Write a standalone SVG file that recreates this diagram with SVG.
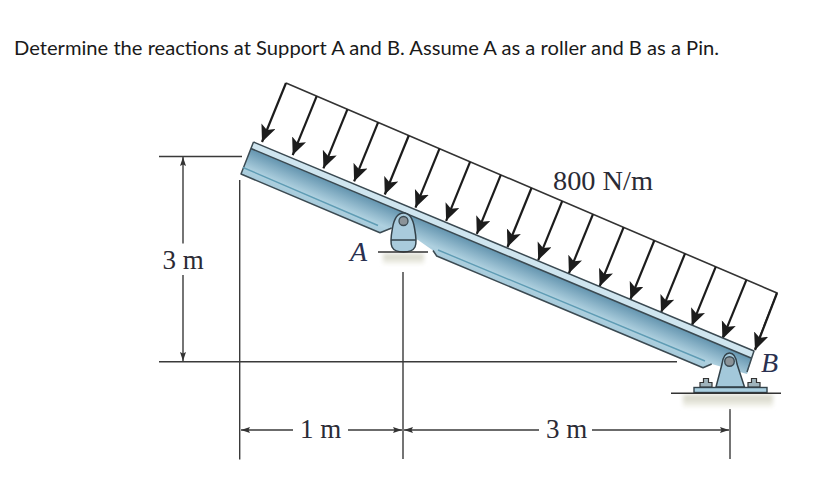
<svg xmlns="http://www.w3.org/2000/svg" width="828" height="498" viewBox="0 0 828 498">
<style>
.title{font-family:"Lato","Open Sans",sans-serif;font-size:18.5px;fill:#1a1a1a}
.lbl{font-family:"Liberation Serif",serif;font-size:27px;fill:#2b2b35}
.it{font-family:"Liberation Serif",serif;font-size:28px;font-style:italic;fill:#2a3050}
.dim{stroke:#3a3a3a;stroke-width:1.4;fill:none}
.load{stroke:#333;stroke-width:1.6;fill:none}
.arw{stroke:#1c1c1c;stroke-width:2.2;fill:none;marker-end:url(#head)}
.edge{stroke:#3b4a52;stroke-width:1.5;stroke-linejoin:round}
</style>
<defs>
<marker id="head" markerUnits="userSpaceOnUse" markerWidth="19" markerHeight="16" refX="17" refY="7.500" orient="auto">
<path d="M0 0L17 7.500L0 15L4 7.500Z" fill="#1c1c1c"/>
</marker>
<marker id="dimEnd" markerUnits="userSpaceOnUse" markerWidth="10" markerHeight="8" refX="9" refY="3" orient="auto">
<path d="M0 0L9 3L0 6L1.500 3Z" fill="#333"/>
</marker>
<linearGradient id="web" gradientUnits="userSpaceOnUse" x1="252" y1="150" x2="240.500" y2="177.500">
<stop offset="0" stop-color="#6797b1"/><stop offset=".65" stop-color="#aed0df"/><stop offset="1" stop-color="#a3c8d9"/>
</linearGradient>
<linearGradient id="shadow" x1="0" y1="0" x2="0" y2="1">
<stop offset="0" stop-color="#cfcfbf"/><stop offset="1" stop-color="#f6f6f0"/>
</linearGradient>
<filter id="soft" x="-10%" y="-30%" width="120%" height="160%"><feGaussianBlur stdDeviation="2"/></filter>
</defs>
<text class="title" x="14" y="54.500" textLength="705" lengthAdjust="spacingAndGlyphs">Determine the reactions at Support A and B. Assume A as a roller and B as a Pin.</text>
<g id="connectors">
<path class="dim" d="M159 156.500H242M159 361.700H677M239.700 180V459.500M403 272V459M730 409V459"/>
<path class="dim" d="M183 243.500V157" marker-end="url(#dimEnd)"/>
<path class="dim" d="M183 275V361" marker-end="url(#dimEnd)"/>
<path class="dim" d="M293 430H241" marker-end="url(#dimEnd)"/>
<path class="dim" d="M348 430H402" marker-end="url(#dimEnd)"/>
<path class="dim" d="M539 430H404" marker-end="url(#dimEnd)"/>
<path class="dim" d="M592 430H729" marker-end="url(#dimEnd)"/>
</g>
<g id="load">
<path class="load" d="M286 83L777 293L755 349"/>
<path class="arw" d="M286 83L262 142"/>
<path class="arw" d="M316.700 96.100L292.700 155.100"/>
<path class="arw" d="M347.400 109.300L323.400 168.300"/>
<path class="arw" d="M378.100 122.400L354.100 181.400"/>
<path class="arw" d="M408.800 135.500L384.800 194.500"/>
<path class="arw" d="M439.500 148.600L415.500 207.600"/>
<path class="arw" d="M470.100 161.800L446.100 220.800"/>
<path class="arw" d="M500.800 174.900L476.800 233.900"/>
<path class="arw" d="M531.500 188L507.500 247"/>
<path class="arw" d="M562.200 201.100L538.200 260.100"/>
<path class="arw" d="M592.900 214.300L568.900 273.300"/>
<path class="arw" d="M623.600 227.400L599.600 286.400"/>
<path class="arw" d="M654.300 240.500L630.300 299.500"/>
<path class="arw" d="M685 253.600L661 312.600"/>
<path class="arw" d="M715.700 266.800L691.700 325.800"/>
<path class="arw" d="M746.400 279.900L722.400 338.900"/>
<path class="arw" d="M777 293L755 350"/>
</g>
<g id="beam">
<path d="M253.500 142L754 351L747 374L711.700 364L703 367.700L436.700 256L433 250.500L418 240L391.700 228L380 232.700L241 174Z" fill="url(#web)" stroke="none"/>
<path d="M253.500 142L754 351L751 358L251 148.500Z" fill="#cfe5ef" stroke="none"/>
<path class="edge" fill="none" d="M253.500 142L754 351L747 372M253.500 142L241 174L380 232.700L391.700 228M433 250.500L436.700 256L703 367.700L711.700 364"/>
<path class="edge" fill="none" d="M251 148.500L751 358"/>
<path d="M243 167.500L378 225.500M438 250L705 361" stroke="#5f9cb4" stroke-width="1.400" fill="none"/>
</g>
<g id="support-a">
<rect x="383" y="254" width="41" height="10" fill="url(#shadow)" filter="url(#soft)"/>
<path d="M403.500 213C397 213 394 219 392.500 228C391 236 390 243 392 247C394 251 398 252 403.500 252C409 252 413 251 415 247C417 243 416 236 414.500 228C413 219 410 213 403.500 213Z" fill="#a9cbdc" stroke="#33424a" stroke-width="1.500"/>
<path d="M391 240H416" stroke="#33424a" stroke-width="1.500"/>
<circle cx="403.500" cy="221" r="4.500" fill="#8b9398" stroke="#3b4a52" stroke-width="1.300"/>
<path d="M378 252H428" stroke="#333" stroke-width="1.600"/>
<text class="it" x="350" y="261">A</text>
</g>
<g id="support-b">
<rect x="683" y="395" width="90" height="12" fill="url(#shadow)" filter="url(#soft)"/>
<path d="M716 387L722 364C723 357 726 353 729.500 353C733 353 736 357 737 364L744.500 387Z" fill="#a3c8da" stroke="#33424a" stroke-width="1.500"/>
<circle cx="729.500" cy="361.500" r="4.800" fill="#8b9398" stroke="#3b4a52" stroke-width="1.400"/>
<path d="M700 387V382.500H703.500V378.500H708.500V382.500H712V387ZM748 387V382.500H751.500V378.500H756.500V382.500H760V387Z" fill="#9fb4bc" stroke="#333" stroke-width="1.200"/>
<rect x="694" y="387.500" width="73" height="5" fill="#a9cfe0" stroke="#33424a" stroke-width="1.400"/>
<path d="M671 393.300H781" stroke="#333" stroke-width="1.600"/>
<text class="it" x="761" y="372">B</text>
</g>
<g id="labels">
<text class="lbl" x="553" y="190" textLength="100" lengthAdjust="spacingAndGlyphs">800 N/m</text>
<text class="lbl" x="162.500" y="269">3 m</text>
<text class="lbl" x="300" y="438">1 m</text>
<text class="lbl" x="546" y="438">3 m</text>
</g>
</svg>
